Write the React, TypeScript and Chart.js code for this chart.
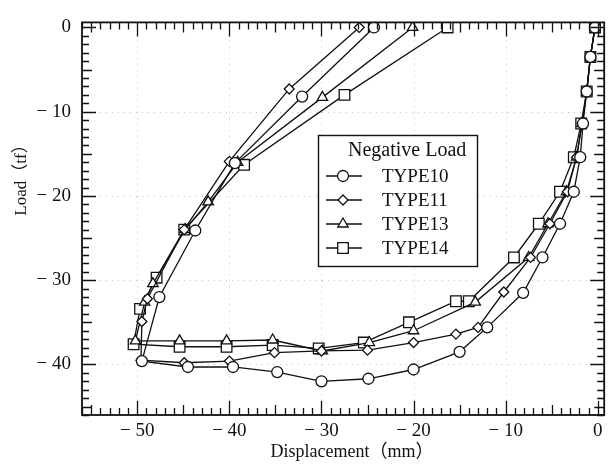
import React, { useEffect, useRef } from 'react';
import { Chart, registerables } from 'chart.js';

Chart.register(...registerables);

// ---- data ----
const xTickValues = [-50, -40, -30, -20, -10, 0];
const yTickValues = [0, -10, -20, -30, -40];
const seriesLabels = ['TYPE10', 'TYPE11', 'TYPE13', 'TYPE14'];
const legendTitle = 'Negative Load';
const xTitle = 'Displacement（mm）';
const yTitle = 'Load（tf）';

const type10X = [-0.3, -0.8, -1.2, -1.6, -1.9, -2.6, -4.1, -6.0, -8.1, -12.0, -15.0, -20.0, -24.9, -30.0, -34.8, -39.6, -44.5, -49.5, -47.6, -43.7, -39.4, -32.1, -24.3];
const type10Y = [0, -3.5, -7.6, -11.4, -15.4, -19.5, -23.3, -27.3, -31.5, -35.6, -38.5, -40.6, -41.7, -42.0, -40.9, -40.3, -40.3, -39.6, -32.0, -24.1, -16.1, -8.2, 0];

const type11X = [-0.3, -0.8, -1.2, -1.7, -2.3, -3.3, -5.2, -7.3, -10.2, -13.0, -15.4, -20.0, -25.0, -30.0, -35.1, -40.0, -44.9, -49.6, -49.5, -48.9, -44.9, -40.0, -33.5, -25.9];
const type11Y = [0, -3.5, -7.6, -11.4, -15.4, -19.5, -23.3, -27.3, -31.4, -35.6, -36.4, -37.4, -38.3, -38.4, -38.6, -39.6, -39.8, -39.5, -34.9, -32.2, -24.0, -15.9, -7.3, 0];

const type13X = [-0.3, -0.8, -1.2, -1.7, -2.3, -3.4, -5.4, -7.5, -13.3, -20.0, -24.8, -29.9, -35.3, -40.3, -45.4, -50.2, -49.2, -48.3, -44.8, -42.3, -39.1, -29.9, -20.1];
const type13Y = [0, -3.5, -7.6, -11.4, -15.4, -19.5, -23.3, -27.3, -32.6, -36.0, -37.4, -38.4, -37.1, -37.2, -37.2, -37.2, -32.6, -30.4, -24.0, -20.7, -16.0, -8.3, 0];

const type14X = [-0.3, -0.8, -1.2, -1.8, -2.6, -4.1, -6.4, -9.1, -14.0, -15.4, -20.5, -25.4, -30.3, -35.3, -40.3, -45.4, -50.4, -49.7, -47.9, -44.9, -38.4, -27.5, -16.3];
const type14Y = [0, -3.5, -7.6, -11.4, -15.4, -19.5, -23.3, -27.3, -32.5, -32.5, -35.0, -37.4, -38.1, -37.7, -37.9, -37.9, -37.6, -33.4, -29.7, -24.0, -16.3, -8.0, 0];

// ---- styling ----
const X_MIN = -56, X_MAX = 0.7, Y_MIN = -46, Y_MAX = 0.6;
const SERIF = '"Liberation Serif", "Times New Roman", "Noto Sans CJK JP", serif';
const INK = '#111';
const markerStyles = ['circle', 'rectRot', 'triangle', 'rect'];
const markerRadii = [5.5, 5, 6, 7.5];

function fmt(v: number) {
  return v === 0 ? '0' : '\u2212 ' + Math.abs(v);
}

function zip(xs: number[], ys: number[]) {
  return xs.map((x, i) => ({ x, y: ys[i] }));
}

function drawMarker(ctx: CanvasRenderingContext2D, style: string, x: number, y: number, r: number) {
  ctx.beginPath();
  if (style === 'circle') {
    ctx.arc(x, y, r, 0, Math.PI * 2);
  } else if (style === 'rectRot') {
    ctx.moveTo(x, y - r); ctx.lineTo(x + r, y); ctx.lineTo(x, y + r); ctx.lineTo(x - r, y); ctx.closePath();
  } else if (style === 'triangle') {
    const h = r * Math.sin(Math.PI / 3);
    ctx.moveTo(x, y - r); ctx.lineTo(x + h, y + r / 2); ctx.lineTo(x - h, y + r / 2); ctx.closePath();
  } else {
    const s = r * Math.SQRT1_2;
    ctx.rect(x - s, y - s, 2 * s, 2 * s);
  }
  ctx.fillStyle = '#fff';
  ctx.fill();
  ctx.stroke();
}

const decor = {
  id: 'decor',
  beforeDatasetsDraw(chart: any) {
    const { ctx, chartArea, scales } = chart;
    const { left, right, top, bottom } = chartArea;
    ctx.save();
    ctx.strokeStyle = '#c4c4c4';
    ctx.lineWidth = 1;
    ctx.setLineDash([1, 5]);
    for (const v of [-50, -40, -30, -20, -10]) {
      const px = Math.round(scales.x.getPixelForValue(v)) + 0.5;
      ctx.beginPath(); ctx.moveTo(px, top); ctx.lineTo(px, bottom); ctx.stroke();
    }
    for (const v of [-10, -20, -30, -40]) {
      const py = Math.round(scales.y.getPixelForValue(v)) + 0.5;
      ctx.beginPath(); ctx.moveTo(left, py); ctx.lineTo(right, py); ctx.stroke();
    }
    ctx.restore();
  },
  afterDatasetsDraw(chart: any) {
    const { ctx, chartArea, scales } = chart;
    const { left, right, top, bottom } = chartArea;
    ctx.save();
    ctx.strokeStyle = INK;
    ctx.lineWidth = 1.8;
    ctx.strokeRect(left, top, right - left, bottom - top);
    ctx.lineWidth = 1.3;
    const len = (v: number) => (v % 10 === 0 ? 14 : v % 5 === 0 ? 10 : 7);
    for (let v = Math.ceil(X_MIN); v <= 0; v++) {
      const px = Math.round(scales.x.getPixelForValue(v)) + 0.5;
      const l = len(v);
      ctx.beginPath();
      ctx.moveTo(px, bottom); ctx.lineTo(px, bottom - l);
      ctx.moveTo(px, top); ctx.lineTo(px, top + l);
      ctx.stroke();
    }
    for (let v = Math.ceil(Y_MIN); v <= 0; v++) {
      const py = Math.round(scales.y.getPixelForValue(v)) + 0.5;
      const l = len(v);
      ctx.beginPath();
      ctx.moveTo(left, py); ctx.lineTo(left + l, py);
      ctx.moveTo(right, py); ctx.lineTo(right - l, py);
      ctx.stroke();
    }
    ctx.restore();
  },
  afterDraw(chart: any) {
    const { ctx } = chart;
    ctx.save();
    ctx.fillStyle = INK;
    // axis titles
    ctx.font = `18px ${SERIF}`;
    ctx.textAlign = 'center';
    ctx.textBaseline = 'middle';
    ctx.fillText(xTitle, 352, 452);
    ctx.save();
    ctx.translate(22, 176);
    ctx.rotate(-Math.PI / 2);
    ctx.font = `17px ${SERIF}`;
    ctx.fillText(yTitle, 0, 0);
    ctx.restore();

    // legend
    const bx = 318.5, by = 135.5, bw = 159, bh = 131;
    ctx.fillStyle = '#fff';
    ctx.fillRect(bx, by, bw, bh);
    ctx.strokeStyle = INK;
    ctx.lineWidth = 1.4;
    ctx.strokeRect(bx, by, bw, bh);
    ctx.fillStyle = INK;
    ctx.textAlign = 'left';
    ctx.font = `20px ${SERIF}`;
    ctx.fillText(legendTitle, 348, 151);
    ctx.font = `19px ${SERIF}`;
    chart.data.datasets.forEach((ds: any, i: number) => {
      const yy = 176 + i * 24;
      ctx.strokeStyle = INK;
      ctx.lineWidth = 1.3;
      ctx.beginPath(); ctx.moveTo(326, yy); ctx.lineTo(362, yy); ctx.stroke();
      drawMarker(ctx, markerStyles[i], 343, yy, markerRadii[i]);
      ctx.fillStyle = INK;
      ctx.fillText(ds.label, 382, yy + 1);
    });
    ctx.restore();
  },
};

export default function App() {
  const ref = useRef<HTMLCanvasElement | null>(null);
  useEffect(() => {
    if (!ref.current) return;
    const series = [zip(type10X, type10Y), zip(type11X, type11Y), zip(type13X, type13Y), zip(type14X, type14Y)];
    const chart = new Chart(ref.current, {
      type: 'scatter',
      data: {
        datasets: series.map((d, i) => ({
          label: seriesLabels[i],
          data: d,
          showLine: true,
          borderColor: INK,
          borderWidth: 1.3,
          pointStyle: markerStyles[i] as any,
          pointRadius: markerRadii[i],
          pointBackgroundColor: '#fff',
          pointBorderColor: INK,
          pointBorderWidth: 1.3,
          tension: 0,
        })),
      },
      options: {
        animation: false,
        responsive: false,
        devicePixelRatio: 1,
        layout: { padding: { top: 18, right: 7, left: 0, bottom: 0 } },
        plugins: { legend: { display: false }, tooltip: { enabled: false } },
        scales: {
          x: {
            type: 'linear',
            min: X_MIN,
            max: X_MAX,
            afterBuildTicks: (s: any) => { s.ticks = xTickValues.map((v) => ({ value: v })); },
            afterFit: (s: any) => { s.height = 51; },
            grid: { display: false, drawTicks: false, tickLength: 0 },
            border: { display: false },
            ticks: {
              autoSkip: false,
              maxRotation: 0,
              padding: 5,
              color: INK,
              font: { family: SERIF, size: 19 },
              callback: (v: any) => fmt(Number(v)),
            },
          },
          y: {
            type: 'linear',
            min: Y_MIN,
            max: Y_MAX,
            afterBuildTicks: (s: any) => { s.ticks = yTickValues.map((v) => ({ value: v })); },
            afterFit: (s: any) => { s.width = 82; },
            grid: { display: false, drawTicks: false, tickLength: 0 },
            border: { display: false },
            ticks: {
              autoSkip: false,
              padding: 11,
              color: INK,
              font: { family: SERIF, size: 19 },
              callback: (v: any) => fmt(Number(v)),
            },
          },
        },
      },
      plugins: [decor],
    });
    return () => chart.destroy();
  }, []);
  return (
    <canvas
      ref={ref}
      width={613}
      height={466}
      style={{ position: 'fixed', left: 0, top: 0, width: 613, height: 466, background: '#fff' }}
    />
  );
}
